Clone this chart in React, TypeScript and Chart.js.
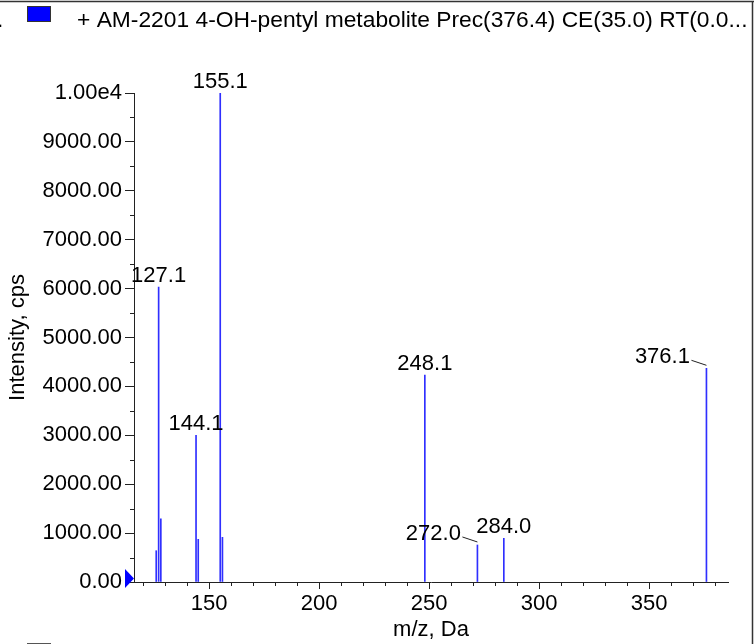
import React, { useEffect, useRef } from "react";
import { Chart, registerables } from "chart.js";

Chart.register(...registerables);

// ---- data ----
const peakMz = [126.0, 127.1, 128.1, 144.1, 145.1, 155.1, 156.1, 248.1, 272.0, 284.0, 376.1];
const peakIntensity = [640, 6030, 1290, 3000, 873, 10000, 914, 4233, 757, 893, 4370];
const labelledMz = [127.1, 144.1, 155.1, 248.1, 272.0, 284.0, 376.1];
const labelTexts = ["127.1", "144.1", "155.1", "248.1", "272.0", "284.0", "376.1"];
const leaderLabels = ["272.0", "376.1"];
const xMajorTicks = [150, 200, 250, 300, 350];
const xMinorTicks = [120, 130, 140, 160, 170, 180, 190, 210, 220, 230, 240, 260, 270, 280, 290, 310, 320, 330, 340, 360, 370, 380];
const yMajorTicks = [0, 1000, 2000, 3000, 4000, 5000, 6000, 7000, 8000, 9000, 10000];
const yMinorTicks = [500, 1500, 2500, 3500, 4500, 5500, 6500, 7500, 8500, 9500];
const xMin = 115.9;
const xMax = 385.9;
const yMin = 0;
const yMax = 10000;
const titleText = "+ AM-2201 4-OH-pentyl metabolite Prec(376.4) CE(35.0) RT(0.0...";
const xTitle = "m/z, Da";
const yTitle = "Intensity, cps";

const FONT = "'Liberation Sans', Arial, sans-serif";
const AXIS = "#222222";
const BLUE = "#2f2fff";

const minorTickPlugin = {
  id: "minorTicks",
  afterDraw(chart: any) {
    const { ctx, scales, chartArea } = chart;
    const x = scales.x;
    const y = scales.y;
    ctx.save();
    ctx.strokeStyle = AXIS;
    ctx.lineWidth = 1;
    ctx.beginPath();
    for (const v of xMinorTicks) {
      const px = Math.round(x.getPixelForValue(v)) + 0.5;
      ctx.moveTo(px, chartArea.bottom);
      ctx.lineTo(px, chartArea.bottom + 4);
    }
    for (const v of yMinorTicks) {
      const py = Math.round(y.getPixelForValue(v)) + 0.5;
      ctx.moveTo(chartArea.left - 4, py);
      ctx.lineTo(chartArea.left, py);
    }
    ctx.stroke();
    ctx.restore();
  },
};

const peakLabelPlugin = {
  id: "peakLabels",
  afterDatasetsDraw(chart: any) {
    const { ctx, scales } = chart;
    const x = scales.x;
    const y = scales.y;
    ctx.save();
    ctx.font = `22px ${FONT}`;
    ctx.fillStyle = "#000";
    ctx.strokeStyle = AXIS;
    ctx.lineWidth = 1;
    labelledMz.forEach((mz, i) => {
      const idx = peakMz.indexOf(mz);
      const px = x.getPixelForValue(mz);
      const py = y.getPixelForValue(peakIntensity[idx]);
      const text = labelTexts[i];
      ctx.textBaseline = "alphabetic";
      if (leaderLabels.includes(text)) {
        ctx.textAlign = "right";
        ctx.fillText(text, px - 16.5, py - 5);
        ctx.beginPath();
        ctx.moveTo(px - 15, py - 8);
        ctx.lineTo(px, py - 3);
        ctx.stroke();
      } else {
        ctx.textAlign = "center";
        ctx.fillText(text, px, py - 5);
      }
    });
    ctx.restore();
  },
};

const decorPlugin = {
  id: "decor",
  afterDraw(chart: any) {
    const { ctx, chartArea, width, height } = chart;
    ctx.save();
    // frame
    ctx.strokeStyle = "#333";
    ctx.lineWidth = 1.5;
    ctx.beginPath();
    ctx.moveTo(0, 1.5);
    ctx.lineTo(width, 1.5);
    ctx.moveTo(752.5, 1.5);
    ctx.lineTo(752.5, height);
    ctx.stroke();
    // legend square
    ctx.fillStyle = "#0000ff";
    ctx.fillRect(27, 6, 24, 16);
    ctx.strokeStyle = "#333";
    ctx.lineWidth = 1;
    ctx.strokeRect(27.5, 6.5, 23, 15);
    // clipped second legend square top
    ctx.strokeStyle = "#555";
    ctx.beginPath();
    ctx.moveTo(27, 643.5);
    ctx.lineTo(51, 643.5);
    ctx.stroke();
    // title text
    ctx.fillStyle = "#000";
    ctx.font = `22.8px ${FONT}`;
    ctx.textAlign = "left";
    ctx.textBaseline = "alphabetic";
    ctx.fillText(".", -3, 27);
    ctx.fillText(titleText, 77, 27);
    // blue marker triangle at y origin
    const left = chartArea.left;
    ctx.fillStyle = "#0000ff";
    ctx.beginPath();
    ctx.moveTo(left - 9, 569);
    ctx.lineTo(left - 9, 588);
    ctx.lineTo(left, 578.5);
    ctx.closePath();
    ctx.fill();
    ctx.restore();
  },
};

export default function App() {
  const canvasRef = useRef<HTMLCanvasElement | null>(null);

  useEffect(() => {
    const canvas = canvasRef.current;
    if (!canvas) return;
    const chart = new Chart(canvas, {
      type: "bar",
      data: {
        datasets: [
          {
            data: peakMz.map((mz, i) => ({ x: mz, y: peakIntensity[i] })),
            backgroundColor: BLUE,
            borderWidth: 0,
            barThickness: 1,
            grouped: false,
          } as any,
        ],
      },
      options: {
        responsive: false,
        animation: false,
        devicePixelRatio: 1,
        layout: { padding: { top: 93, right: 26, left: 0, bottom: 0 } },
        plugins: {
          legend: { display: false },
          tooltip: { enabled: false },
        },
        scales: {
          x: {
            type: "linear",
            min: xMin,
            max: xMax,
            offset: false,
            afterBuildTicks: (s: any) => {
              s.ticks = xMajorTicks.map((v) => ({ value: v }));
            },
            afterFit: (s: any) => {
              s.height = 62;
            },
            grid: {
              offset: false,
              drawOnChartArea: false,
              drawTicks: true,
              tickLength: 7,
              tickColor: AXIS,
              color: AXIS,
            },
            border: { display: true, color: AXIS, width: 1 },
            ticks: {
              autoSkip: false,
              maxRotation: 0,
              padding: 2,
              color: "#000",
              font: { family: FONT, size: 22 },
              callback: (v: any) => String(v),
            },
            title: {
              display: true,
              text: xTitle,
              color: "#000",
              font: { family: FONT, size: 22 },
              padding: { top: 0, bottom: 1 },
            },
          },
          y: {
            type: "linear",
            min: yMin,
            max: yMax,
            afterBuildTicks: (s: any) => {
              s.ticks = yMajorTicks.map((v) => ({ value: v }));
            },
            afterFit: (s: any) => {
              s.width = 134;
            },
            grid: {
              drawOnChartArea: false,
              drawTicks: true,
              tickLength: 9,
              tickColor: AXIS,
              color: AXIS,
            },
            border: { display: true, color: AXIS, width: 1 },
            ticks: {
              autoSkip: false,
              padding: 3,
              color: "#000",
              font: { family: FONT, size: 22 },
              callback: (v: any) => (Number(v) === 10000 ? "1.00e4" : Number(v).toFixed(2)),
            },
            title: {
              display: true,
              text: yTitle,
              color: "#000",
              font: { family: FONT, size: 22 },
              padding: { top: 5, bottom: 0 },
            },
          },
        },
      },
      plugins: [minorTickPlugin, peakLabelPlugin, decorPlugin],
    });
    return () => chart.destroy();
  }, []);

  return (
    <div style={{ position: "absolute", left: 0, top: 0, width: 754, height: 644, background: "#fff" }}>
      <canvas ref={canvasRef} width={754} height={644} style={{ width: 754, height: 644, display: "block" }} />
    </div>
  );
}
